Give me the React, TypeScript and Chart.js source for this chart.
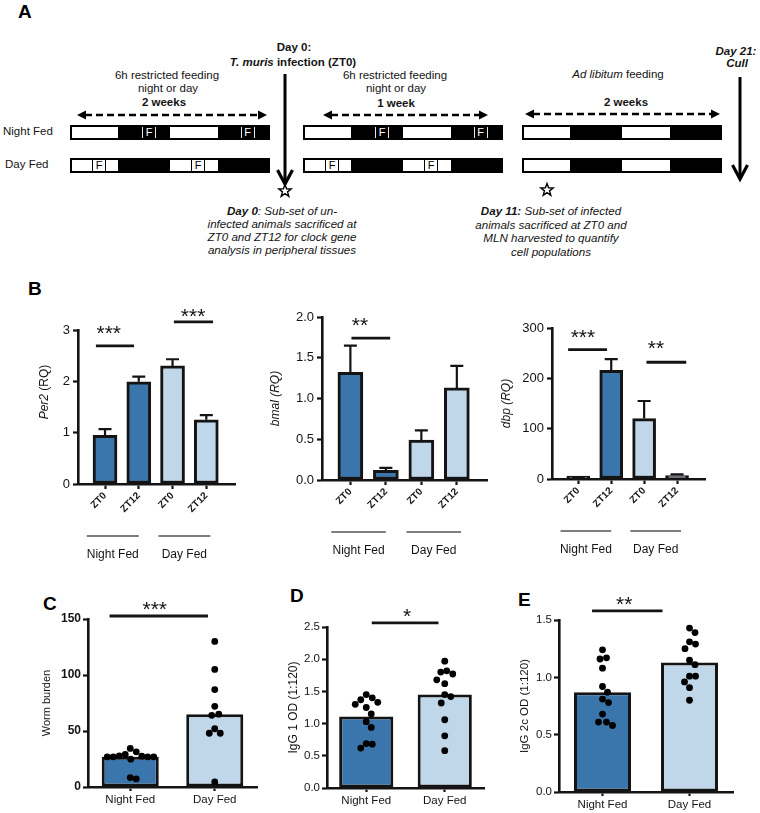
import React, { useEffect, useRef } from 'react';
import { Chart, registerables } from 'chart.js';

Chart.register(...registerables);

const FONT = "'Liberation Sans', Arial, Helvetica, sans-serif";
const INK = '#141414';
const NIGHT_COLOR = '#3a76ac';
const DAY_COLOR = '#c0d6e9';

Chart.defaults.font.family = FONT;
Chart.defaults.color = INK;

// ---------------- Panel B data ----------------
const ZT_LABELS = ['ZT0', 'ZT12', 'ZT0', 'ZT12'];
const FEED_GROUPS = ['Night Fed', 'Day Fed'];

const PER2_MEAN = [0.95, 1.99, 2.3, 1.25];
const PER2_SEM = [0.12, 0.1, 0.13, 0.09];
const PER2_TICKS = [0, 1, 2, 3];

const BMAL_MEAN = [1.32, 0.12, 0.49, 1.13];
const BMAL_SEM = [0.33, 0.03, 0.12, 0.27];
const BMAL_TICKS = [0, 0.5, 1.0, 1.5, 2.0];

const DBP_MEAN = [1.5, 216, 120, 7];
const DBP_SEM = [0.5, 22, 35, 2];
const DBP_TICKS = [0, 100, 200, 300];

// ---------------- Panels C-E data ----------------
const WORM_MEAN = [27, 65];
const WORM_NIGHT = [29, 27.8, 27.5, 26.9, 24.8, 34.4, 26.9, 26.9, 26.9, 31.4, 7.2, 8.4];
const WORM_DAY = [130, 105, 87, 72, 64, 65, 48, 48, 52, 4.5];
const WORM_TICKS = [0, 50, 100, 150];

const IGG1_MEAN = [1.11, 1.45];
const IGG1_NIGHT = [1.45, 1.37, 1.3, 1.33, 1.25, 1.4, 1.15, 1.03, 0.94, 0.69, 0.62, 0.68];
const IGG1_DAY = [1.97, 1.8, 1.77, 1.82, 1.62, 1.68, 1.42, 1.45, 1.32, 1.06, 0.81, 0.58];
const IGG1_TICKS = [0, 0.5, 1.0, 1.5, 2.0, 2.5];

const IGG2C_MEAN = [0.87, 1.13];
const IGG2C_NIGHT = [1.24, 1.08, 1.16, 1.17, 0.92, 0.87, 0.78, 0.81, 0.68, 0.61, 0.58, 0.61];
const IGG2C_DAY = [1.43, 1.39, 1.31, 1.29, 1.25, 1.15, 1.11, 1.01, 1.01, 0.96, 0.91, 0.8];
const IGG2C_TICKS = [0, 0.5, 1.0, 1.5];

// significance annotations (data units)
const PER2_SIG = [
  { from: -0.27, to: 0.86, y: 2.69, text: '***', tx: 0.11, gap: 18 },
  { from: 2.04, to: 3.2, y: 3.16, text: '***', tx: 2.61, gap: 11 },
];
const BMAL_SIG = [{ from: 0.03, to: 1.12, y: 1.74, text: '**', tx: 0.27, gap: 18 }];
const DBP_SIG = [
  { from: -0.31, to: 0.87, y: 257, text: '***', tx: 0.14, gap: 18 },
  { from: 2.07, to: 3.28, y: 232, text: '**', tx: 2.36, gap: 19 },
];
const WORM_SIG = [{ from: -0.245, to: 0.92, y: 152.7, text: '***', tx: 0.29, gap: 12 }];
const IGG1_SIG = [{ from: 0.07, to: 0.92, y: 2.565, text: '*', tx: 0.52, gap: 12 }];
const IGG2C_SIG = [{ from: -0.12, to: 0.69, y: 1.58, text: '**', tx: 0.25, gap: 11.5 }];

// group spans under the panel-B axes (x data units)
const GROUP_SPANS = [
  [-0.54, 1.0],
  [1.58, 3.12],
];

type TitlePart = { text: string; italic?: boolean };
type Sig = { from: number; to: number; y: number; text: string; tx: number; gap: number };

// ---------------- plugins ----------------
const errorBarPlugin = (sem: number[]) => ({
  id: 'errorBars',
  afterDatasetsDraw(chart: any) {
    const { ctx } = chart;
    const y = chart.scales.y;
    const meta = chart.getDatasetMeta(0);
    const data = chart.data.datasets[0].data;
    ctx.save();
    ctx.strokeStyle = INK;
    ctx.lineWidth = 2.2;
    meta.data.forEach((el: any, i: number) => {
      const raw = data[i];
      const v = typeof raw === 'number' ? raw : raw.y;
      const top = y.getPixelForValue(v + sem[i]);
      ctx.beginPath();
      ctx.moveTo(el.x, el.y);
      ctx.lineTo(el.x, top);
      ctx.moveTo(el.x - 6.5, top);
      ctx.lineTo(el.x + 6.5, top);
      ctx.stroke();
    });
    ctx.restore();
  },
});

const sigPlugin = (sigs: Sig[]) => ({
  id: 'sig',
  afterDraw(chart: any) {
    const { ctx } = chart;
    const x = chart.scales.x;
    const y = chart.scales.y;
    ctx.save();
    ctx.strokeStyle = INK;
    ctx.fillStyle = INK;
    ctx.lineWidth = 2.8;
    sigs.forEach((s) => {
      const py = y.getPixelForValue(s.y);
      ctx.beginPath();
      ctx.moveTo(x.getPixelForValue(s.from), py);
      ctx.lineTo(x.getPixelForValue(s.to), py);
      ctx.stroke();
      ctx.font = `21px ${FONT}`;
      ctx.textAlign = 'center';
      ctx.textBaseline = 'alphabetic';
      ctx.fillText(s.text, x.getPixelForValue(s.tx), py - s.gap + 12);
    });
    ctx.restore();
  },
});

const yTitlePlugin = (parts: TitlePart[], dx: number, dy: number, size: number) => ({
  id: 'ytitle',
  afterDraw(chart: any) {
    const { ctx, chartArea } = chart;
    const cx = chartArea.left - dx;
    const cy = (chartArea.top + chartArea.bottom) / 2 + dy;
    ctx.save();
    ctx.translate(cx, cy);
    ctx.rotate(-Math.PI / 2);
    const fonts = parts.map((p) => `${p.italic ? 'italic ' : ''}${size}px ${FONT}`);
    let total = 0;
    const widths = parts.map((p, i) => {
      ctx.font = fonts[i];
      const w = ctx.measureText(p.text).width;
      total += w;
      return w;
    });
    let xx = -total / 2;
    ctx.fillStyle = INK;
    ctx.textBaseline = 'middle';
    ctx.textAlign = 'left';
    parts.forEach((p, i) => {
      ctx.font = fonts[i];
      ctx.fillText(p.text, xx, 0);
      xx += widths[i];
    });
    ctx.restore();
  },
});

const groupPlugin = (lineDy: number, labelDy: number) => ({
  id: 'groups',
  afterDraw(chart: any) {
    const { ctx, chartArea } = chart;
    const x = chart.scales.x;
    ctx.save();
    ctx.strokeStyle = '#555';
    ctx.lineWidth = 1.6;
    ctx.fillStyle = INK;
    ctx.font = `12px ${FONT}`;
    ctx.textAlign = 'center';
    ctx.textBaseline = 'middle';
    GROUP_SPANS.forEach((sp, g) => {
      const a = x.getPixelForValue(sp[0]);
      const b = x.getPixelForValue(sp[1]);
      const ly = chartArea.bottom + lineDy;
      ctx.beginPath();
      ctx.moveTo(a, ly);
      ctx.lineTo(b, ly);
      ctx.stroke();
      ctx.fillText(FEED_GROUPS[g], (a + b) / 2, chartArea.bottom + labelDy);
    });
    ctx.restore();
  },
});

// beeswarm-like spread: vertical distance counts less so that nearby values sit side by side
function swarm(ys: number[], d: number, vWeight: number): number[] {
  const order = ys.map((_, i) => i).sort((a, b) => ys[a] - ys[b]);
  const placed: { x: number; y: number }[] = [];
  const off = new Array(ys.length).fill(0);
  for (const i of order) {
    let best = 0;
    for (let k = 0; k < 400; k++) {
      const cand = (k % 2 === 1 ? 1 : -1) * Math.ceil(k / 2) * 0.5;
      const ok = placed.every((p) => (p.x - cand) ** 2 + ((p.y - ys[i]) * vWeight) ** 2 >= d * d);
      if (ok) {
        best = cand;
        break;
      }
    }
    placed.push({ x: best, y: ys[i] });
    off[i] = best;
  }
  return off;
}

const dotsPlugin = (groups: number[][], r: number) => ({
  id: 'dots',
  afterDatasetsDraw(chart: any) {
    const { ctx } = chart;
    const x = chart.scales.x;
    const y = chart.scales.y;
    ctx.save();
    ctx.fillStyle = '#000';
    groups.forEach((vals, g) => {
      const cx = x.getPixelForValue(g);
      const pys = vals.map((v) => y.getPixelForValue(v));
      const offs = swarm(pys, 2 * r - 0.8, 0.6);
      pys.forEach((py, i) => {
        ctx.beginPath();
        ctx.arc(cx + offs[i], py, r, 0, Math.PI * 2);
        ctx.fill();
      });
    });
    ctx.restore();
  },
});

// ---------------- scale helpers ----------------
type Area = { L: number; T: number; R: number; B: number };
type Margins = { left: number; top: number; right: number; bottom: number };

function yScale(max: number, ticks: number[], fmt: (v: number) => string, mLeft: number, size: number, bold: boolean, pad: number) {
  return {
    type: 'linear',
    min: 0,
    max,
    afterBuildTicks: (s: any) => {
      s.ticks = ticks.map((v) => ({ value: v }));
    },
    afterFit: (s: any) => {
      s.width = mLeft;
    },
    ticks: {
      autoSkip: false,
      callback: (v: any) => fmt(Number(v)),
      color: INK,
      padding: pad,
      font: { family: FONT, size, weight: bold ? 'bold' : 'normal' },
    },
    grid: { drawOnChartArea: false, drawTicks: true, tickLength: 5, tickWidth: 2.2, tickColor: INK },
    border: { display: true, color: INK, width: 2.6 },
  };
}

function baseOptions(m: Margins) {
  return {
    animation: false,
    responsive: false,
    devicePixelRatio: 1,
    layout: { padding: { left: 0, top: m.top, right: m.right, bottom: 0 } },
    plugins: { legend: { display: false }, tooltip: { enabled: false } },
  };
}

function makeBChart(p: {
  mean: number[];
  sem: number[];
  ticks: number[];
  fmt: (v: number) => string;
  title: TitlePart[];
  titleDx: number;
  titleDy: number;
  sigs: Sig[];
  barW: number;
  m: Margins;
  minBar?: number;
}) {
  return {
    type: 'bar',
    data: {
      datasets: [
        {
          data: p.mean.map((v, i) => ({ x: i, y: v })),
          backgroundColor: [NIGHT_COLOR, NIGHT_COLOR, DAY_COLOR, DAY_COLOR],
          borderColor: INK,
          borderWidth: 3,
          borderSkipped: false,
          barThickness: p.barW,
          minBarLength: p.minBar || 0,
        },
      ],
    },
    options: {
      ...baseOptions(p.m),
      scales: {
        x: {
          type: 'linear',
          min: -0.8,
          max: 3.85,
          bounds: 'data',
          offset: false,
          afterBuildTicks: (s: any) => {
            s.ticks = ZT_LABELS.map((_, i) => ({ value: i }));
          },
          afterFit: (s: any) => {
            s.height = p.m.bottom;
          },
          ticks: {
            autoSkip: false,
            minRotation: 45,
            maxRotation: 45,
            padding: 1,
            color: INK,
            font: { family: FONT, size: 10, weight: 'bold' },
            callback: (v: any) => ZT_LABELS[Math.round(Number(v))] ?? '',
          },
          grid: { offset: false, drawOnChartArea: false, tickLength: 5, tickWidth: 2.2, tickColor: INK },
          border: { display: true, color: INK, width: 2.6 },
        },
        y: yScale(p.ticks[p.ticks.length - 1], p.ticks, p.fmt, p.m.left, 13, false, 3),
      },
    },
    plugins: [
      errorBarPlugin(p.sem),
      sigPlugin(p.sigs),
      yTitlePlugin(p.title, p.titleDx, p.titleDy, 12),
      groupPlugin(52, 71),
    ],
  };
}

function makeDotChart(p: {
  mean: number[];
  night: number[];
  day: number[];
  ticks: number[];
  fmt: (v: number) => string;
  title: string;
  titleDx: number;
  titleSize: number;
  tickSize: number;
  tickBold: boolean;
  sigs: Sig[];
  barPct: number;
  m: Margins;
}) {
  return {
    type: 'bar',
    data: {
      labels: FEED_GROUPS,
      datasets: [
        {
          data: p.mean,
          backgroundColor: [NIGHT_COLOR, DAY_COLOR],
          borderColor: INK,
          borderWidth: 3,
          borderSkipped: false,
          barPercentage: p.barPct,
          categoryPercentage: 1,
        },
      ],
    },
    options: {
      ...baseOptions(p.m),
      scales: {
        x: {
          type: 'category',
          offset: true,
          afterFit: (s: any) => {
            s.height = p.m.bottom;
          },
          ticks: { autoSkip: false, maxRotation: 0, padding: 2, color: INK, font: { family: FONT, size: 11.5 } },
          grid: { offset: false, drawOnChartArea: false, tickLength: 4, tickWidth: 2.2, tickColor: INK },
          border: { display: true, color: INK, width: 2.6 },
        },
        y: yScale(p.ticks[p.ticks.length - 1], p.ticks, p.fmt, p.m.left, p.tickSize, p.tickBold, 2),
      },
    },
    plugins: [
      dotsPlugin([p.night, p.day], 3.4),
      sigPlugin(p.sigs),
      yTitlePlugin([{ text: p.title }], p.titleDx, 0, p.titleSize),
    ],
  };
}

function ChartCanvas({ area, m, build }: { area: Area; m: Margins; build: () => any }) {
  const ref = useRef<HTMLCanvasElement>(null);
  const left = area.L - m.left;
  const top = area.T - m.top;
  const width = area.R - area.L + m.left + m.right;
  const height = area.B - area.T + m.top + m.bottom;
  useEffect(() => {
    const chart = new Chart(ref.current as HTMLCanvasElement, build());
    return () => chart.destroy();
  }, []);
  return (
    <canvas
      ref={ref}
      width={width}
      height={height}
      style={{ position: 'absolute', left, top, width, height, display: 'block' }}
    />
  );
}

// ---------------- Panel A (schematic) ----------------
const LD_CYCLE = [
  { from: 0, to: 48, dark: false },
  { from: 48, to: 100, dark: true },
  { from: 100, to: 148, dark: false },
  { from: 148, to: 200, dark: true },
];

function FeedBar({ left, top, fMarks, fOnDark }: { left: number; top: number; fMarks: number[]; fOnDark: boolean }) {
  const W = 200;
  const H = 15;
  const b = 2;
  const inner = H - 2 * b;
  const lc = fOnDark ? '#e6e6e6' : '#000';
  return (
    <div
      style={{
        position: 'absolute',
        left,
        top,
        width: W,
        height: H,
        boxSizing: 'border-box',
        border: `${b}px solid #000`,
        background: '#fff',
        overflow: 'hidden',
      }}
    >
      {LD_CYCLE.filter((s) => s.dark).map((s, i) => (
        <div
          key={i}
          style={{ position: 'absolute', left: s.from - b, top: 0, width: s.to - s.from, height: inner, background: '#000' }}
        />
      ))}
      {fMarks.map((c, i) => (
        <div
          key={'f' + i}
          style={{
            position: 'absolute',
            left: c - 7 - b,
            top: 0,
            width: 14,
            height: inner,
            boxSizing: 'border-box',
            borderLeft: `1.5px solid ${lc}`,
            borderRight: `1.5px solid ${lc}`,
            color: fOnDark ? '#fff' : '#000',
            fontSize: 11,
            lineHeight: `${inner}px`,
            textAlign: 'center',
            fontFamily: FONT,
          }}
        >
          F
        </div>
      ))}
    </div>
  );
}

const Txt = ({ x, y, children, size = 11.5, style = {} }: any) => (
  <div
    style={{
      position: 'absolute',
      left: x,
      top: y,
      transform: 'translate(-50%,-50%)',
      whiteSpace: 'nowrap',
      fontFamily: FONT,
      fontSize: size,
      lineHeight: 1,
      color: INK,
      ...style,
    }}
  >
    {children}
  </div>
);

const Letter = ({ x, y, children }: any) => (
  <div
    style={{
      position: 'absolute',
      left: x,
      top: y,
      transform: 'translateY(-50%)',
      fontFamily: FONT,
      fontWeight: 'bold',
      fontSize: 19,
      lineHeight: 1,
      color: '#000',
    }}
  >
    {children}
  </div>
);

function starPoints(cx: number, cy: number, R: number, r: number) {
  const pts: string[] = [];
  for (let i = 0; i < 10; i++) {
    const a = -Math.PI / 2 + (i * Math.PI) / 5;
    const rad = i % 2 === 0 ? R : r;
    pts.push(`${(cx + rad * Math.cos(a)).toFixed(2)},${(cy + rad * Math.sin(a)).toFixed(2)}`);
  }
  return pts.join(' ');
}

function DashArrow({ x1, x2, y }: { x1: number; x2: number; y: number }) {
  return (
    <g>
      <line x1={x1 + 8} y1={y} x2={x2 - 8} y2={y} stroke="#000" strokeWidth={2.5} strokeDasharray="7 4" />
      <polygon points={`${x1},${y} ${x1 + 9},${y - 4.5} ${x1 + 9},${y + 4.5}`} fill="#000" />
      <polygon points={`${x2},${y} ${x2 - 9},${y - 4.5} ${x2 - 9},${y + 4.5}`} fill="#000" />
    </g>
  );
}

function DownArrow({ x, y1, y2 }: { x: number; y1: number; y2: number }) {
  return (
    <g>
      <line x1={x} y1={y1} x2={x} y2={y2 - 2} stroke="#000" strokeWidth={3} />
      <polyline
        points={`${x - 7.5},${y2 - 14} ${x},${y2} ${x + 7.5},${y2 - 14}`}
        fill="none"
        stroke="#000"
        strokeWidth={3.2}
      />
    </g>
  );
}

function PanelA() {
  const blocks = [70, 303, 522];
  return (
    <>
      <Letter x={18} y={11}>A</Letter>
      <svg width={760} height={270} style={{ position: 'absolute', left: 0, top: 0 }}>
        <DashArrow x1={77} x2={267} y={115} />
        <DashArrow x1={323} x2={488} y={115} />
        <DashArrow x1={525} x2={720} y={114} />
        <DownArrow x={285} y1={74} y2={184} />
        <DownArrow x={740} y1={77} y2={179} />
        <polygon points={starPoints(285, 191, 6.5, 2.7)} fill="#fff" stroke="#000" strokeWidth={1.4} />
        <polygon points={starPoints(547, 190, 6.5, 2.7)} fill="#fff" stroke="#000" strokeWidth={1.4} />
      </svg>

      <Txt x={294} y={48} style={{ fontWeight: 'bold' }}>Day 0:</Txt>
      <Txt x={293} y={63} style={{ fontWeight: 'bold' }}>
        <i>T. muris</i> infection (ZT0)
      </Txt>
      <Txt x={736} y={52} style={{ fontWeight: 'bold', fontStyle: 'italic' }}>Day 21:</Txt>
      <Txt x={737} y={64} style={{ fontWeight: 'bold', fontStyle: 'italic' }}>Cull</Txt>

      <Txt x={167} y={76}>6h restricted feeding</Txt>
      <Txt x={168} y={89}>night or day</Txt>
      <Txt x={164} y={103} style={{ fontWeight: 'bold' }}>2 weeks</Txt>

      <Txt x={395} y={76}>6h restricted feeding</Txt>
      <Txt x={396} y={89}>night or day</Txt>
      <Txt x={396} y={104} style={{ fontWeight: 'bold' }}>1 week</Txt>

      <Txt x={618} y={75}>
        <i>Ad libitum</i> feeding
      </Txt>
      <Txt x={626} y={103} style={{ fontWeight: 'bold' }}>2 weeks</Txt>

      <div style={{ position: 'absolute', left: 3, top: 132, transform: 'translateY(-50%)', fontFamily: FONT, fontSize: 11.5, lineHeight: 1, color: INK, whiteSpace: 'nowrap' }}>
        Night Fed
      </div>
      <div style={{ position: 'absolute', left: 5, top: 165, transform: 'translateY(-50%)', fontFamily: FONT, fontSize: 11.5, lineHeight: 1, color: INK, whiteSpace: 'nowrap' }}>
        Day Fed
      </div>

      {blocks.map((bl, i) => (
        <React.Fragment key={i}>
          <FeedBar left={bl} top={125} fMarks={i < 2 ? [79, 177.5] : []} fOnDark={true} />
          <FeedBar left={bl} top={158} fMarks={i < 2 ? [29, 128] : []} fOnDark={false} />
        </React.Fragment>
      ))}

      <div
        style={{
          position: 'absolute',
          left: 282,
          top: 203.5,
          transform: 'translateX(-50%)',
          textAlign: 'center',
          fontFamily: FONT,
          fontSize: 11.6,
          lineHeight: '13px',
          fontStyle: 'italic',
          color: INK,
          whiteSpace: 'nowrap',
        }}
      >
        <b>Day 0</b>: Sub-set of un-
        <br />
        infected animals sacrificed at
        <br />
        ZT0 and ZT12 for clock gene
        <br />
        analysis in peripheral tissues
      </div>
      <div
        style={{
          position: 'absolute',
          left: 551,
          top: 204,
          transform: 'translateX(-50%)',
          textAlign: 'center',
          fontFamily: FONT,
          fontSize: 11.6,
          lineHeight: '13.7px',
          fontStyle: 'italic',
          color: INK,
          whiteSpace: 'nowrap',
        }}
      >
        <b>Day 11:</b> Sub-set of infected
        <br />
        animals sacrificed at ZT0 and
        <br />
        MLN harvested to quantify
        <br />
        cell populations
      </div>
    </>
  );
}

// ---------------- App ----------------
const f0 = (v: number) => v.toFixed(0);
const f1 = (v: number) => v.toFixed(1);

export default function App() {
  const mB1 = { left: 42, top: 40, right: 10, bottom: 80 };
  const mB2 = { left: 55, top: 40, right: 10, bottom: 84 };
  const mB3 = { left: 55, top: 40, right: 10, bottom: 85 };
  const mC = { left: 50, top: 35, right: 10, bottom: 23 };
  const mD = { left: 45, top: 35, right: 10, bottom: 23 };
  const mE = { left: 45, top: 35, right: 10, bottom: 20 };
  return (
    <div style={{ position: 'absolute', left: 0, top: 0, width: 760, height: 813, overflow: 'hidden', background: '#fff' }}>
      <PanelA />
      <Letter x={28} y={288}>B</Letter>
      <Letter x={43} y={603}>C</Letter>
      <Letter x={290} y={595}>D</Letter>
      <Letter x={518} y={599}>E</Letter>

      <ChartCanvas
        area={{ L: 78, T: 330, R: 235, B: 484 }}
        m={mB1}
        build={() =>
          makeBChart({
            mean: PER2_MEAN,
            sem: PER2_SEM,
            ticks: PER2_TICKS,
            fmt: f0,
            title: [{ text: 'Per2', italic: true }, { text: ' (RQ)' }],
            titleDx: 33,
            titleDy: -15,
            sigs: PER2_SIG,
            barW: 24,
            m: mB1,
          })
        }
      />
      <ChartCanvas
        area={{ L: 322, T: 317, R: 487, B: 480 }}
        m={mB2}
        build={() =>
          makeBChart({
            mean: BMAL_MEAN,
            sem: BMAL_SEM,
            ticks: BMAL_TICKS,
            fmt: f1,
            title: [{ text: 'bmal (RQ)', italic: true }],
            titleDx: 46,
            titleDy: 0,
            sigs: BMAL_SIG,
            barW: 25,
            m: mB2,
          })
        }
      />
      <ChartCanvas
        area={{ L: 552, T: 328, R: 705, B: 479 }}
        m={mB3}
        build={() =>
          makeBChart({
            mean: DBP_MEAN,
            sem: DBP_SEM,
            ticks: DBP_TICKS,
            fmt: f0,
            title: [{ text: 'dbp (RQ)', italic: true }],
            titleDx: 45,
            titleDy: 0,
            sigs: DBP_SIG,
            barW: 23,
            m: mB3,
            minBar: 3,
          })
        }
      />

      <ChartCanvas
        area={{ L: 88, T: 619, R: 257, B: 787 }}
        m={mC}
        build={() =>
          makeDotChart({
            mean: WORM_MEAN,
            night: WORM_NIGHT,
            day: WORM_DAY,
            ticks: WORM_TICKS,
            fmt: f0,
            title: 'Worm burden',
            titleDx: 41,
            titleSize: 11,
            tickSize: 12,
            tickBold: true,
            sigs: WORM_SIG,
            barPct: 0.675,
            m: mC,
          })
        }
      />
      <ChartCanvas
        area={{ L: 327, T: 627, R: 484, B: 788 }}
        m={mD}
        build={() =>
          makeDotChart({
            mean: IGG1_MEAN,
            night: IGG1_NIGHT,
            day: IGG1_DAY,
            ticks: IGG1_TICKS,
            fmt: f1,
            title: 'IgG 1 OD (1:120)',
            titleDx: 33,
            titleSize: 12,
            tickSize: 11.5,
            tickBold: false,
            sigs: IGG1_SIG,
            barPct: 0.69,
            m: mD,
          })
        }
      />
      <ChartCanvas
        area={{ L: 559, T: 620, R: 733, B: 792 }}
        m={mE}
        build={() =>
          makeDotChart({
            mean: IGG2C_MEAN,
            night: IGG2C_NIGHT,
            day: IGG2C_DAY,
            ticks: IGG2C_TICKS,
            fmt: f1,
            title: 'IgG 2c OD (1:120)',
            titleDx: 34,
            titleSize: 11.5,
            tickSize: 11.5,
            tickBold: false,
            sigs: IGG2C_SIG,
            barPct: 0.655,
            m: mE,
          })
        }
      />
    </div>
  );
}
